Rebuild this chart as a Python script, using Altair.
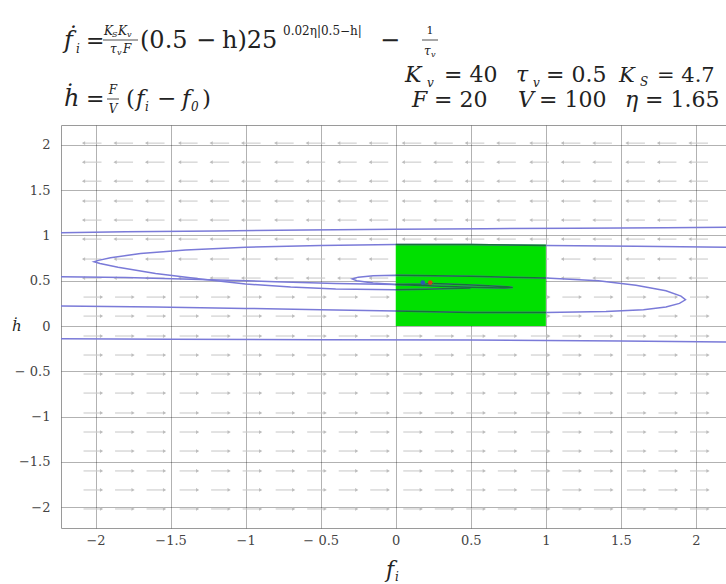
import altair as alt
import pandas as pd

# ---------------- data ----------------
x_ticks = [-2, -1.5, -1, -0.5, 0, 0.5, 1, 1.5, 2]
y_ticks = [-2, -1.5, -1, -0.5, 0, 0.5, 1, 1.5, 2]

# direction-field grid (arrow centres)
arrow_cols = [-2.02, -1.81, -1.60, -1.38, -1.17, -0.96, -0.74, -0.53, -0.32, -0.11,
              0.11, 0.32, 0.53, 0.74, 0.96, 1.17, 1.38, 1.60, 1.81, 2.02]
arrow_rows = [2.02, 1.81, 1.60, 1.38, 1.17, 0.96, 0.74, 0.53, 0.32, 0.11,
              -0.11, -0.32, -0.53, -0.74, -0.96, -1.17, -1.38, -1.60, -1.81, -2.02]
row_dir = ["left", "left", "left", "left", "left", "left", "left", "left",
           "right", "right", "right", "right", "right", "right", "right", "right",
           "right", "right", "right", "right"]

# admissible region (green box)
box_f = [0.0, 1.0]
box_h = [0.0, 0.9]

# trajectories / contour curves
curve_A_x = [-2.23, -1.8, -1.2, -0.6, 0.0, 0.6, 1.2, 1.8, 2.2]
curve_A_y = [1.03, 1.04, 1.05, 1.06, 1.07, 1.075, 1.08, 1.085, 1.09]

curve_B_x = [2.2, 1.6, 1.0, 0.5, 0.0, -0.5, -1.0, -1.4, -1.7, -1.9, -1.98, -2.01,
             -1.97, -1.85, -1.6, -1.3, -1.0, -0.7, -0.4, 0.0, 0.2, 0.5]
curve_B_y = [0.87, 0.88, 0.89, 0.90, 0.90, 0.89, 0.87, 0.84, 0.80, 0.755, 0.725, 0.71,
             0.69, 0.65, 0.58, 0.52, 0.465, 0.43, 0.41, 0.40, 0.405, 0.42]

curve_S_x = [-2.23, -1.6, -1.0, -0.5, 0.0, 0.5, 1.0, 1.4, 1.65, 1.8, 1.89, 1.93, 1.9,
             1.8, 1.6, 1.35, 1.0, 0.5, 0.0, -0.15, -0.25, -0.29, -0.26, -0.15, 0.0,
             0.3, 0.55, 0.72, 0.78, 0.74, 0.55, 0.35, 0.25]
curve_S_y = [0.22, 0.21, 0.195, 0.18, 0.165, 0.15, 0.15, 0.16, 0.18, 0.21, 0.25, 0.29,
             0.33, 0.39, 0.45, 0.50, 0.53, 0.55, 0.56, 0.555, 0.54, 0.52, 0.50, 0.475,
             0.46, 0.44, 0.425, 0.42, 0.425, 0.435, 0.45, 0.465, 0.47]

curve_L_x = [-2.23, -1.8, -1.3, -0.8, -0.4, 0.0, 0.2, 0.25]
curve_L_y = [0.545, 0.535, 0.515, 0.49, 0.47, 0.46, 0.465, 0.47]

curve_E_x = [-2.23, -1.5, -0.5, 0.5, 1.5, 2.2]
curve_E_y = [-0.14, -0.145, -0.15, -0.155, -0.165, -0.175]

eq_f = [0.18, 0.23]
eq_h = [0.48, 0.48]
eq_color = ["#2a5ab0", "#d0401a"]

# ---------------- layout ----------------
PAD_L, PAD_T, PAD_R, PAD_B = 61, 125, 0, 56
W, H = 665, 403
X_DOMAIN = [-2.23, 2.2]
Y_DOMAIN = [-2.23, 2.22]
SERIF = "DejaVu Serif"
INK = "#222222"

x_axis = alt.Axis(values=x_ticks, format="~g", title=None, grid=True, ticks=False,
                  domain=False, labelPadding=6,
                  labelExpr="datum.value == -0.5 ? '− 0.5' : datum.label")
y_axis = alt.Axis(values=y_ticks, format="~g", title=None, grid=True, ticks=False,
                  domain=False, labelPadding=11,
                  labelExpr="datum.value == -0.5 ? '− 0.5' : datum.label")
xs = alt.Scale(domain=X_DOMAIN, nice=False, zero=False)
ys = alt.Scale(domain=Y_DOMAIN, nice=False, zero=False)


def X(field):
    return alt.X(field, type="quantitative", scale=xs, axis=x_axis)


def Y(field):
    return alt.Y(field, type="quantitative", scale=ys, axis=y_axis)


# arrows
arows = []
for yv, d in zip(arrow_rows, row_dir):
    for xv in arrow_cols:
        x1, x2 = xv - 0.06, xv + 0.06
        arows.append({"x1": x1, "x2": x2, "y": yv,
                      "hx": x1 if d == "left" else x2,
                      "shape": "triangle-left" if d == "left" else "triangle-right"})
arrow_df = pd.DataFrame(arows)

arrow_rules = alt.Chart(arrow_df).mark_rule(color="#c6c6c6", strokeWidth=1).encode(
    x=X("x1"), x2="x2", y=Y("y"))
arrow_heads = alt.Chart(arrow_df).mark_point(filled=True, size=14, color="#bdbdbd",
                                             opacity=1).encode(
    x=X("hx"), y=Y("y"), shape=alt.Shape("shape:N", scale=None))

box_df = pd.DataFrame({"f1": [box_f[0]], "f2": [box_f[1]], "h1": [box_h[0]], "h2": [box_h[1]]})
box = alt.Chart(box_df).mark_rect(color="#00e000").encode(
    x=X("f1"), x2="f2", y=Y("h1"), y2="h2")

crows = []
inrows = []
eps = 1e-6
for name, cx, cy in [("A", curve_A_x, curve_A_y), ("B", curve_B_x, curve_B_y),
                     ("S", curve_S_x, curve_S_y), ("L", curve_L_x, curve_L_y),
                     ("E", curve_E_x, curve_E_y)]:
    seg = 0
    prev_in = False
    for i, (a, b) in enumerate(zip(cx, cy)):
        crows.append({"curve": name, "i": i, "f": a, "h": b})
        inside = (box_f[0] - eps <= a <= box_f[1] + eps) and (box_h[0] - eps <= b <= box_h[1] + eps)
        if inside:
            if not prev_in:
                seg += 1
            inrows.append({"seg": f"{name}{seg}", "i": i, "f": a, "h": b})
        prev_in = inside
curve_df = pd.DataFrame(crows)
in_df = pd.DataFrame(inrows)

curves = alt.Chart(curve_df).mark_line(color="#7a7ad8", strokeWidth=1.5, clip=True).encode(
    x=X("f"), y=Y("h"), detail="curve:N", order="i:Q")
curves_in = alt.Chart(in_df).mark_line(color="#17703a", strokeWidth=1.5, clip=True).encode(
    x=X("f"), y=Y("h"), detail="seg:N", order="i:Q")

eq_df = pd.DataFrame({"f": eq_f, "h": eq_h, "c": eq_color})
eq = alt.Chart(eq_df).mark_circle(size=22, opacity=1).encode(
    x=X("f"), y=Y("h"), color=alt.Color("c:N", scale=None))


def txt(s, px, py, size, italic=False, align="left", color=INK):
    return alt.Chart(pd.DataFrame({"t": [s]})).mark_text(
        font=SERIF, fontSize=size, fontStyle="italic" if italic else "normal",
        align=align, baseline="alphabetic", color=color).encode(
        text="t:N", x=alt.value(px - PAD_L), y=alt.value(py - PAD_T))


def bar(px1, px2, py):
    return alt.Chart(pd.DataFrame({"t": [0]})).mark_rule(color=INK, strokeWidth=0.8).encode(
        x=alt.value(px1 - PAD_L), x2=alt.value(px2 - PAD_L), y=alt.value(py - PAD_T))


texts = [
    # line 1
    txt("ḟ", 64, 48, 24, True), txt("i", 76, 53, 12, True),
    txt("=", 86, 48, 22),
    txt("K", 104, 35, 12, True), txt("S", 112, 37, 8, True),
    txt("K", 118, 35, 12, True), txt("v", 127, 37, 8, True),
    bar(103, 138, 40),
    txt("τ", 110, 53, 12, True), txt("v", 117, 55, 8, True), txt("F", 123, 53, 12, True),
    txt("(0.5", 140, 48, 24), txt("−", 196, 48, 24), txt("h)25", 222, 48, 24),
    txt("0.02η|0.5−h|", 283, 35, 12),
    txt("−", 380, 48, 24),
    txt("1", 430, 34, 11, align="center"),
    bar(422, 438, 40),
    txt("τ", 424, 55, 12, True), txt("v", 431, 57, 8, True),
    # line 2
    txt("ḣ", 64, 106, 24, True),
    txt("=", 86, 106, 22),
    txt("F", 113, 94, 12, True, align="center"),
    bar(107, 119, 99),
    txt("V", 113, 113, 12, True, align="center"),
    txt("(", 126, 106, 23), txt("f", 136, 106, 23, True), txt("i", 145, 111, 12, True),
    txt("−", 157, 106, 23), txt("f", 182, 106, 23, True), txt("0", 191, 111, 12, True),
    txt(")", 202, 106, 23),
    # parameters row 1
    txt("K", 405, 82, 22, True), txt("v", 427, 87, 12, True), txt("= 40", 444, 82, 22),
    txt("τ", 516, 82, 22, True), txt("v", 533, 87, 12, True), txt("= 0.5", 546, 82, 22),
    txt("K", 619, 82, 21, True), txt("S", 640, 86, 12, True), txt("= 4.7", 657, 82, 21),
    # parameters row 2
    txt("F", 412, 107, 22, True), txt("= 20", 434, 107, 22),
    txt("V", 518, 107, 22, True), txt("= 100", 539, 107, 22),
    txt("η", 625, 107, 22, True), txt("= 1.65", 645, 107, 22),
    # axis titles
    txt("ḣ", 12, 331, 15, True),
    txt("f", 386, 577, 22, True), txt("i", 395, 581, 12, True),
]

chart = alt.layer(arrow_rules, arrow_heads, box, curves, curves_in, eq, *texts).properties(
    width=W, height=H,
    autosize=alt.AutoSizeParams(type="none"),
    padding={"left": PAD_L, "top": PAD_T, "right": PAD_R, "bottom": PAD_B},
    background="white",
).configure_view(stroke="#9a9a9a", strokeWidth=1).configure_axis(
    gridColor="#000000", gridOpacity=0.3, gridWidth=1, zindex=1,
    labelFont=SERIF, labelFontSize=13, labelColor="#444444",
)

chart.save("out.html", embed_options={"renderer": "svg", "actions": False})
